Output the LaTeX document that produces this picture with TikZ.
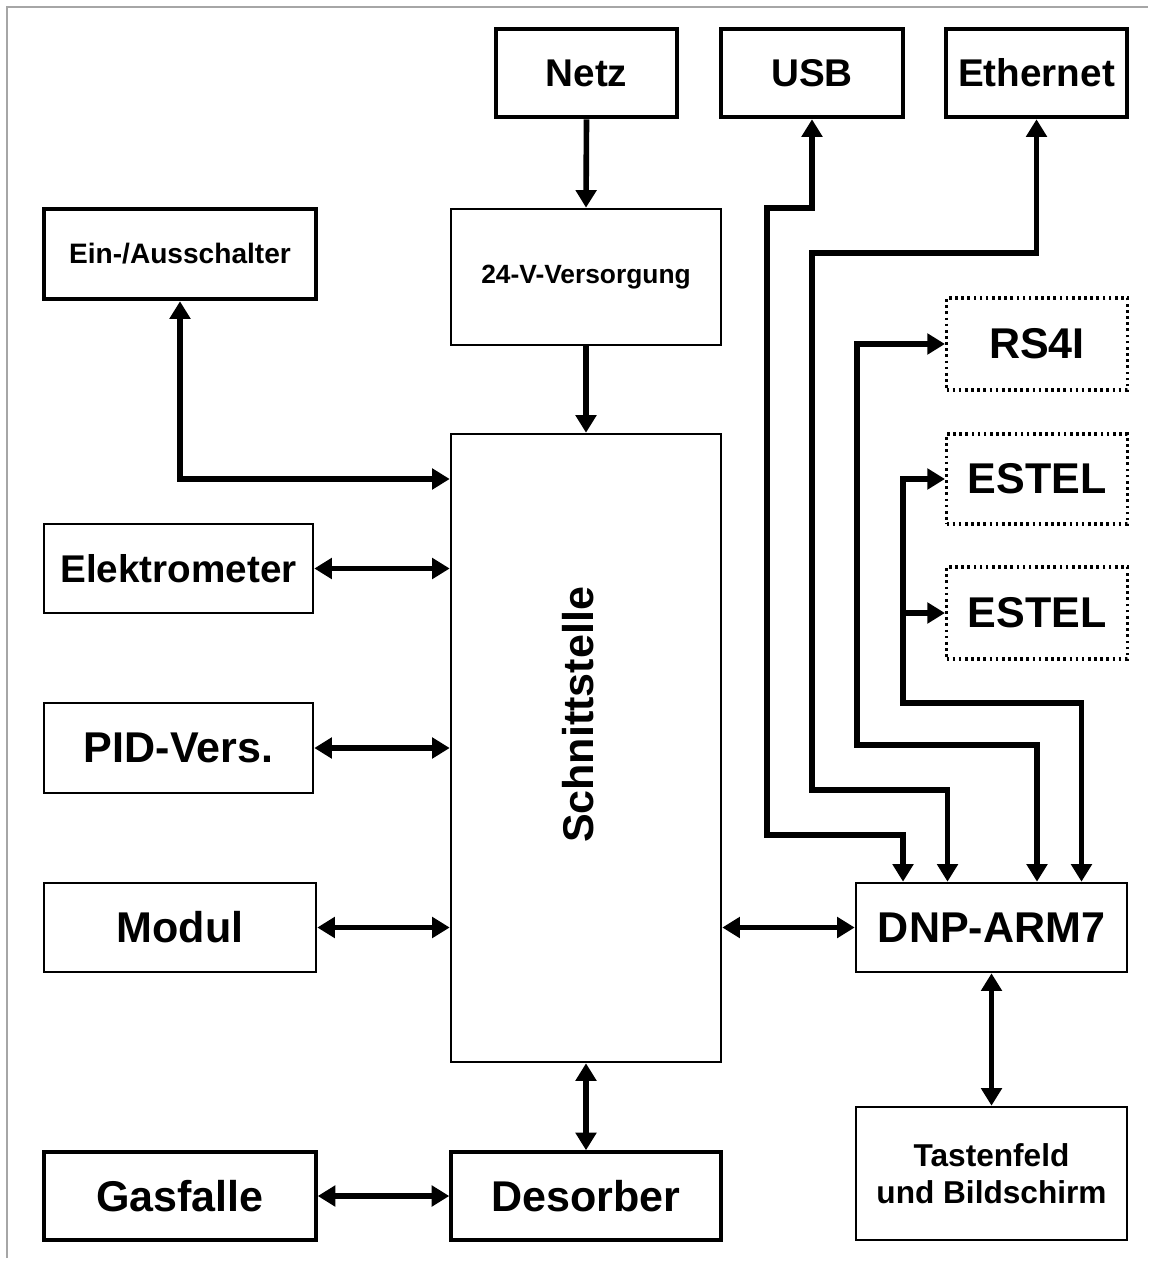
\documentclass[tikz,border=0pt]{standalone}
\usepackage{fontspec}
\setmainfont{Liberation Sans}
\usetikzlibrary{arrows.meta}

\tikzset{
  box/.style={draw,line width=1.5pt,inner sep=0pt,align=center,
    font=\bfseries\fontsize{24.5}{28}\selectfont},
  dickbox/.style={box,line width=2.6pt},
  mittelbox/.style={box,line width=2pt},
  punktbox/.style={box,dotted,line width=1.8pt},
  pfeil/.style={-{Triangle[length=10pt,width=11.5pt]},line width=3.2pt},
  doppelpfeil/.style={{Triangle[length=10pt,width=11.5pt]}-{Triangle[length=10pt,width=11.5pt]},line width=3.2pt},
}

\begin{document}
\begin{tikzpicture}[x=0.02cm,y=-0.02cm]
\useasboundingbox (0,0) rectangle (1148,1266);
\draw[gray!70,line width=0.6pt] (7,1258) -- (7,7) -- (1148,7);

% obere Reihe
\node[dickbox,minimum width=3.62cm,minimum height=1.76cm,font=\bfseries\fontsize{22}{26}\selectfont]
  (netz) at (586.5,73) {Netz};
\node[dickbox,minimum width=3.64cm,minimum height=1.76cm,font=\bfseries\fontsize{22}{26}\selectfont]
  (usb) at (812,73) {USB};
\node[dickbox,minimum width=3.62cm,minimum height=1.76cm,font=\bfseries\fontsize{22}{26}\selectfont]
  (eth) at (1036.5,73) {Ethernet};

% linke Spalte
\node[dickbox,minimum width=5.44cm,minimum height=1.8cm,font=\bfseries\fontsize{16}{19}\selectfont]
  (ein) at (180,254) {Ein-/Ausschalter};
\node[box,minimum width=5.38cm,minimum height=1.78cm,font=\bfseries\fontsize{22}{26}\selectfont]
  (elek) at (178.5,568.5) {Elektrometer};
\node[box,minimum width=5.38cm,minimum height=1.8cm] (pid) at (178.5,748) {PID-Vers.};
\node[box,minimum width=5.44cm,minimum height=1.78cm] (modul) at (180,927.5) {Modul};
\node[mittelbox,minimum width=5.44cm,minimum height=1.76cm] (gas) at (180,1196) {Gasfalle};

% mittlere Spalte
\node[box,minimum width=5.4cm,minimum height=2.72cm,font=\bfseries\fontsize{15}{18}\selectfont]
  (vers) at (586,277) {24-V-Versorgung};
\node[box,minimum width=5.4cm,minimum height=12.56cm] (schn) at (586,748) {};
\node[rotate=90,font=\bfseries\fontsize{24.5}{28}\selectfont] (schntext) at (578,715) {Schnittstelle};
\node[mittelbox,minimum width=5.4cm,minimum height=1.76cm] (des) at (586,1196) {Desorber};

% rechte Spalte
\node[punktbox,minimum width=3.62cm,minimum height=1.84cm] (rs) at (1037,344) {RS4I};
\node[punktbox,minimum width=3.62cm,minimum height=1.8cm] (est1) at (1037,479) {ESTEL};
\node[punktbox,minimum width=3.62cm,minimum height=1.84cm] (est2) at (1037,613) {ESTEL};
\node[box,minimum width=5.42cm,minimum height=1.78cm] (dnp) at (991.5,927.5) {DNP-ARM7};
\node[box,minimum width=5.42cm,minimum height=2.66cm,font=\bfseries\fontsize{18}{21}\selectfont]
  (tast) at (991.5,1173.5) {Tastenfeld\\und Bildschirm};

% Knickpunkte
\coordinate (einknick) at (181,479);
\coordinate (usbknick) at (767,835);
\coordinate (ethknick) at (812,790);
\coordinate (rsknick) at (857,745);
\coordinate (estknick) at (903,703);

% Verbindungen
\draw[pfeil] (netz.south) -- (vers.north);
\draw[pfeil] (vers.south) -- (schn.north);
\draw[doppelpfeil] (ein.south) |- (schn.west |- einknick);
\draw[doppelpfeil] (elek.east) -- (schn.west |- elek.east);
\draw[doppelpfeil] (pid.east) -- (schn.west |- pid.east);
\draw[doppelpfeil] (modul.east) -- (schn.west |- modul.east);
\draw[doppelpfeil] (schn.east |- dnp.west) -- (dnp.west);
\draw[doppelpfeil] (schn.south) -- (des.north);
\draw[doppelpfeil] (gas.east) -- (des.west);
\draw[doppelpfeil] (dnp.south) -- (tast.north);

\draw[doppelpfeil] ([xshift=-1.77cm]dnp.north) |- (usbknick) |- (812,208) -- (usb.south);
\draw[doppelpfeil] ([xshift=-0.88cm]dnp.north) |- (ethknick) |- (1036.5,253) -- (eth.south);
\draw[doppelpfeil] ([xshift=0.91cm]dnp.north) |- (rsknick) |- (rs.west);
\draw[doppelpfeil] ([xshift=1.8cm]dnp.north) |- (estknick) |- (est1.west);
\draw[pfeil] (estknick |- est2.west) -- (est2.west);
\end{tikzpicture}
\end{document}
